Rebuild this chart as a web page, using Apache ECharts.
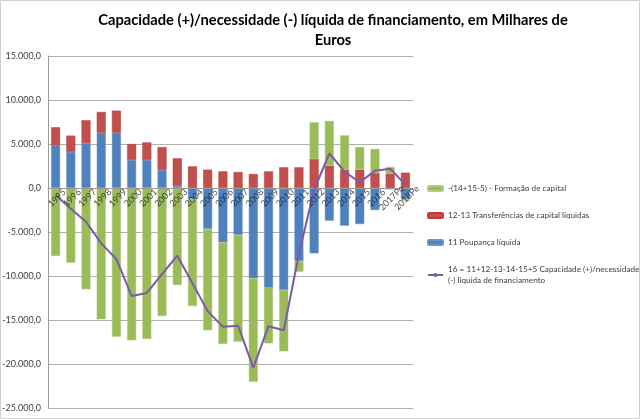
<!DOCTYPE html>
<html>
<head>
<meta charset="utf-8">
<script src="https://cdn.jsdelivr.net/npm/echarts@6/dist/echarts.min.js"></script>
<style>
html,body{margin:0;padding:0;background:#fff;}
#chart{width:640px;height:419px;}
</style>
</head>
<body>
<div id="chart"></div>
<script>
var categories = ['1995','1996','1997','1998','1999','2000','2001','2002','2003','2004','2005','2006','2007','2008','2009','2010','2011','2012','2013','2014','2015','2016','2017Po','2018Pe'];
var poupanca = [4800, 4100, 5100, 6290, 6290, 3180, 3180, 2050, 230, -1250, -4660, -6170, -5340, -10260, -11330, -11590, -8300, -7420, -3710, -4280, -4090, -2500, -150, -1250];
var transferencias = [2100, 1850, 2600, 2350, 2500, 1820, 2000, 2600, 3150, 2460, 2080, 1890, 1820, 1590, 1890, 2350, 2350, 3300, 2540, 2080, 2080, 1710, 1630, 1740];
var formacao = [-7730, -8480, -11510, -14920, -16890, -17310, -17160, -14550, -11020, -12160, -11510, -11560, -12120, -11750, -6320, -6970, -1210, 4170, 5080, 3900, 2580, 2730, 760, -190];
var capacidade = [-800, -2350, -3830, -6290, -8080, -12280, -11930, -9800, -7690, -10830, -13990, -15780, -15640, -20420, -15700, -16160, -7500, -200, 3920, 1850, 650, 1950, 2200, 380];

var nameG = '-(14+15-5) - Formação de capital';
var nameR = '12-13 Transferências de capital líquidas';
var nameB = '11 Poupança líquida';
var nameL = '16 = 11+12-13-14-15+5 Capacidade (+)/necessidade (-) liquida de financiamento';

var FONT = 'Lato, "Open Sans", sans-serif';

function fmt(v){
  var neg = v < 0; var a = Math.abs(v);
  var s = String(Math.round(a)).replace(/\B(?=(\d{3})+(?!\d))/g, '.');
  return (neg ? '-' : '') + s + ',0';
}

var labelPoints = categories.map(function(c){ return [c, 0]; });

var chart = echarts.init(document.getElementById('chart'));
chart.setOption({
  animation: false,
  backgroundColor: '#fff',
  textStyle: {fontFamily: FONT},
  title: {
    text: 'Capacidade (+)/necessidade (-) líquida de financiamento, em Milhares de\nEuros',
    left: 328, top: 5, textAlign: 'center',
    textStyle: {fontFamily: FONT, fontWeight: 'bold', fontSize: 14.7, color: '#000', lineHeight: 20}
  },
  graphic: [{
    type: 'rect', shape: {x: 0.5, y: 0.5, width: 639, height: 418},
    style: {fill: 'none', stroke: '#d0d0d0', lineWidth: 1}, silent: true
  }],
  legend: {
    orient: 'vertical', left: 427, top: 183, padding: 0, width: 210,
    itemWidth: 15, itemHeight: 5, itemGap: 16,
    data: [nameG, nameR, nameB, nameL],
    formatter: function(n){ return n === nameL ? '16 = 11+12-13-14-15+5 Capacidade (+)/necessidade\n(-) liquida de financiamento' : n; },
    textStyle: {fontFamily: FONT, fontSize: 8.2, color: '#404040', lineHeight: 11, overflow: 'none'}
  },
  grid: {left: 48, right: 227, top: 56, bottom: 11, containLabel: false, outerBoundsMode: 'none'},
  xAxis: {
    type: 'category', data: categories, z: 5,
    axisLine: {show: true, onZero: true, lineStyle: {color: '#999', width: 1}},
    axisTick: {show: false},
    axisLabel: {show: false}
  },
  yAxis: {
    type: 'value', min: -25000, max: 15000, interval: 5000,
    axisLine: {show: true, lineStyle: {color: '#999'}},
    axisTick: {show: false},
    splitLine: {lineStyle: {color: '#b0b0b0', width: 1}},
    axisLabel: {formatter: fmt, fontSize: 9, color: '#404040', margin: 7, fontFamily: FONT}
  },
  series: [
    {name: nameB, type: 'bar', stack: 'tot', data: poupanca, barWidth: 9,
     itemStyle: {color: '#4F81BD', borderColor: '#6b95c8', borderWidth: 0.5}},
    {name: nameR, type: 'bar', stack: 'tot', data: transferencias, barWidth: 9,
     itemStyle: {color: '#C0504D', borderColor: '#c23a36', borderWidth: 0.5}},
    {name: nameG, type: 'bar', stack: 'tot', data: formacao, barWidth: 9,
     itemStyle: {color: '#9BBB59', borderColor: '#b0cb7d', borderWidth: 0.5}},
    {name: nameL, type: 'line', data: capacidade, showSymbol: false, symbol: 'none', z: 10,
     lineStyle: {color: '#7B5BA8', width: 2}, itemStyle: {color: '#7B5BA8'}},
    {name: 'xlabels', type: 'scatter', data: labelPoints, symbolSize: 0, z: 12, silent: true,
     label: {show: true, position: 'inside', offset: [-6, 8], rotate: 45, align: 'center', verticalAlign: 'middle',
       fontSize: 9, color: '#222', fontFamily: FONT,
       formatter: function(p){ return p.value[0]; }}}
  ]
});
</script>
</body>
</html>
